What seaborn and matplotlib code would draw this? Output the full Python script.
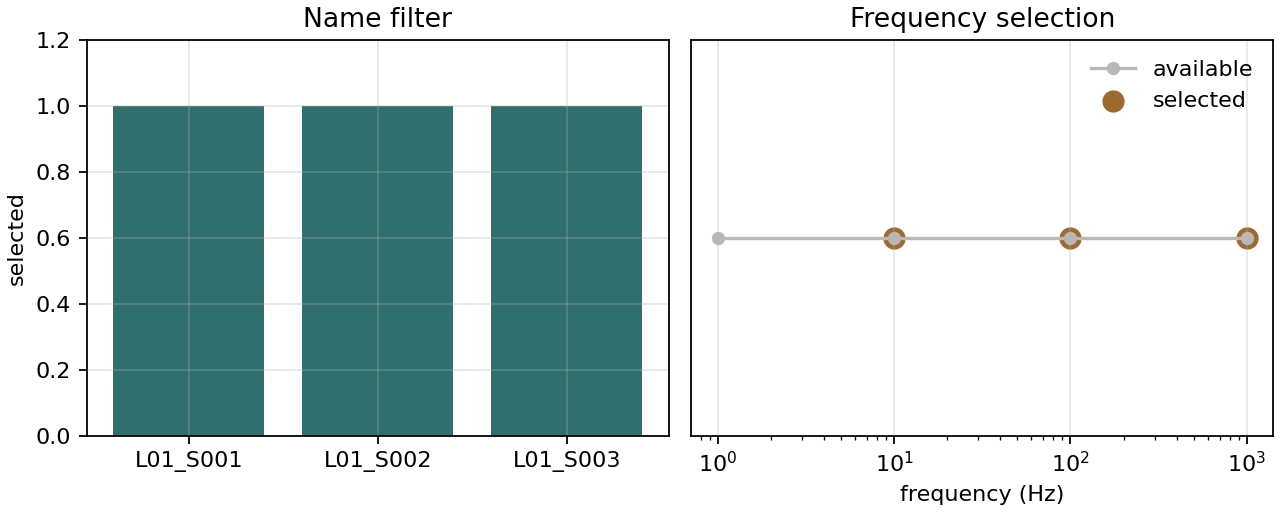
import numpy as np
import pandas as pd
import seaborn as sns
import matplotlib
matplotlib.use("Agg")
import matplotlib.pyplot as plt

# name filter panel
sample_names = ["L01_S001", "L01_S002", "L01_S003"]
sample_selected = [1, 1, 1]

# frequency selection panel
available_freqs = [1, 10, 100, 1000]
available_level = [0.6, 0.6, 0.6, 0.6]
selected_freqs = [10, 100, 1000]
selected_level = [0.6, 0.6, 0.6]

TEAL = "#306f6d"
BROWN = "#9b6b30"
GREY = "#b8b8b8"


def plot_name_filter(ax):
    df = pd.DataFrame({"name": sample_names, "selected": sample_selected})
    sns.barplot(data=df, x="name", y="selected", color=TEAL, saturation=1,
                width=0.8, ax=ax)
    ax.set_xlim(-0.54, len(sample_names) - 1 + 0.54)
    ax.set_ylim(0, 1.2)
    ax.set_xlabel("")
    ax.set_ylabel("selected")
    ax.set_title("Name filter")
    ax.grid(True, alpha=0.3)


def plot_frequency_selection(ax):
    ax.set_xscale("log")
    sns.lineplot(x=available_freqs, y=available_level, color=GREY,
                 linewidth=1.5, marker="o", markersize=6,
                 markeredgewidth=0, label="available", ax=ax)
    sns.scatterplot(x=selected_freqs, y=selected_level, color=BROWN,
                    s=100, linewidth=0, label="selected", zorder=1, ax=ax)
    ax.set_ylim(0, 1.2)
    ax.set_yticks([])
    ax.set_xlabel("frequency (Hz)")
    ax.set_ylabel("")
    ax.set_title("Frequency selection")
    ax.grid(True, axis="x", alpha=0.3)
    ax.legend(loc="upper right", frameon=False)


fig, (ax1, ax2) = plt.subplots(1, 2, figsize=(8, 3.2), dpi=160,
                               layout="constrained")
fig.get_layout_engine().set(wspace=0.035)
plot_name_filter(ax1)
plot_frequency_selection(ax2)
fig.savefig("out.png", dpi=160)
